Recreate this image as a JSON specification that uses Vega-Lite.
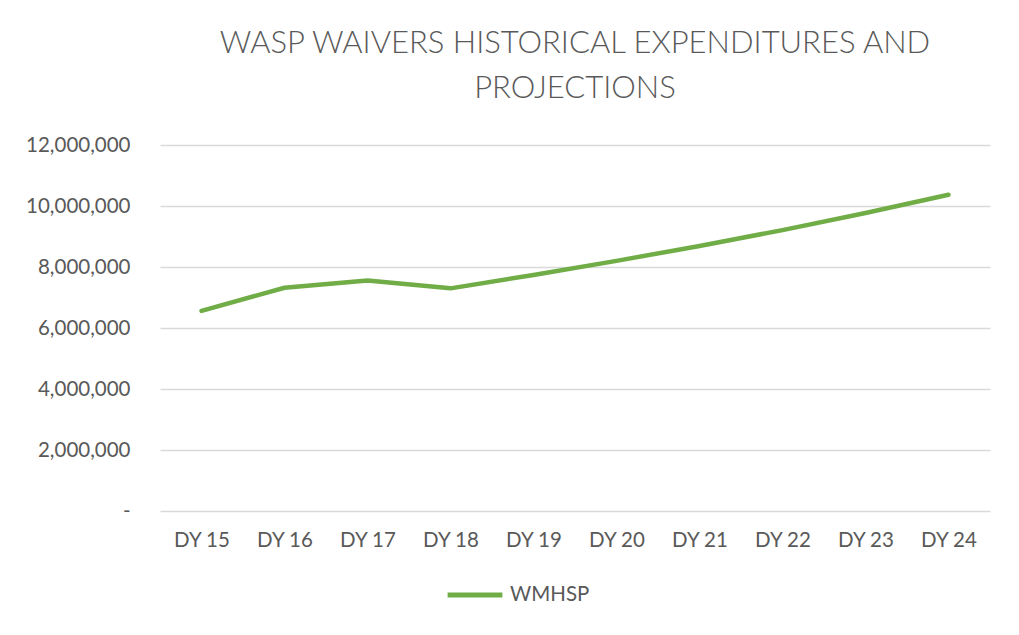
{
  "$schema": "https://vega.github.io/schema/vega-lite/v6.json",
  "width": 830,
  "height": 366,
  "autosize": {"type": "none"},
  "padding": {"left": 160, "top": 145, "right": 29, "bottom": 124},
  "background": "white",
  "title": {
    "text": ["WASP WAIVERS HISTORICAL EXPENDITURES AND", "PROJECTIONS"],
    "anchor": "middle",
    "frame": "group",
    "font": "Lato",
    "fontSize": 31,
    "fontWeight": 300,
    "color": "#595959",
    "lineHeight": 45,
    "offset": 30
  },
  "data": {
    "values": [
      {"year": "DY 15", "value": 6560000, "series": "WMHSP"},
      {"year": "DY 16", "value": 7320000, "series": "WMHSP"},
      {"year": "DY 17", "value": 7560000, "series": "WMHSP"},
      {"year": "DY 18", "value": 7300000, "series": "WMHSP"},
      {"year": "DY 19", "value": 7740000, "series": "WMHSP"},
      {"year": "DY 20", "value": 8200000, "series": "WMHSP"},
      {"year": "DY 21", "value": 8690000, "series": "WMHSP"},
      {"year": "DY 22", "value": 9210000, "series": "WMHSP"},
      {"year": "DY 23", "value": 9770000, "series": "WMHSP"},
      {"year": "DY 24", "value": 10370000, "series": "WMHSP"}
    ]
  },
  "mark": {"type": "line", "strokeWidth": 4.5, "strokeCap": "round", "strokeJoin": "round"},
  "encoding": {
    "x": {
      "field": "year",
      "type": "ordinal",
      "scale": {"type": "point", "padding": 0.5},
      "axis": {
        "title": null,
        "labelAngle": 0,
        "domain": false,
        "ticks": false,
        "tickSize": 0,
        "grid": false,
        "labelPadding": 19,
        "labelFont": "Lato",
        "labelFontSize": 20.5,
        "labelColor": "#595959"
      }
    },
    "y": {
      "field": "value",
      "type": "quantitative",
      "scale": {"domain": [0, 12000000]},
      "axis": {
        "title": null,
        "values": [0, 2000000, 4000000, 6000000, 8000000, 10000000, 12000000],
        "labelExpr": "datum.value == 0 ? '-\u00a0\u00a0\u00a0' : format(datum.value, ',')",
        "domain": false,
        "ticks": false,
        "tickSize": 0,
        "labelPadding": 30,
        "gridColor": "#d9d9d9",
        "gridWidth": 1.3,
        "labelFont": "Lato",
        "labelFontSize": 20.5,
        "labelColor": "#595959"
      }
    },
    "color": {
      "field": "series",
      "type": "nominal",
      "scale": {"range": ["#70AD47"]},
      "legend": {
        "title": null,
        "orient": "none",
        "legendX": 285,
        "legendY": 420,
        "symbolType": "stroke",
        "symbolStrokeWidth": 5,
        "symbolSize": 3000,
        "labelFont": "Lato",
        "labelFontSize": 20.5,
        "labelColor": "#595959",
        "labelOffset": 5
      }
    }
  },
  "config": {
    "view": {"stroke": null}
  }
}
